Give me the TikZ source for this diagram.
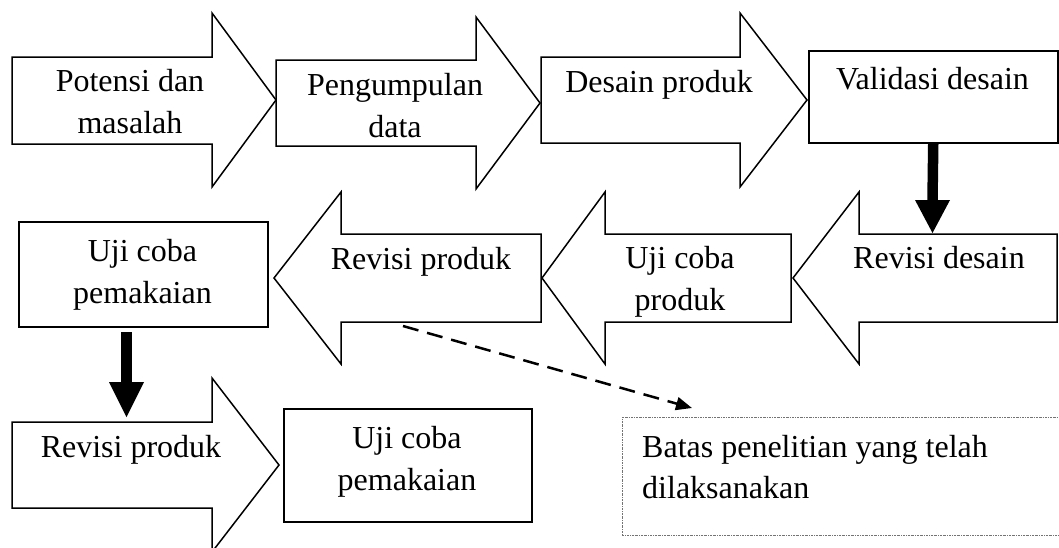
\documentclass[tikz,border=0pt]{standalone}
\usepackage{fontspec}
\setmainfont{Liberation Serif}
\usetikzlibrary{arrows.meta,calc}
\tikzset{
  outline/.style={draw=black, line width=1.5pt, line join=miter, fill=white},
  lbl/.style={inner sep=0pt, anchor=base, align=center, font=\fontsize{32}{42}\selectfont},
  lbll/.style={inner sep=0pt, anchor=base west, align=left, font=\fontsize{32}{41}\selectfont},
  boxnode/.style={draw=black, line width=1.5pt, inner sep=0pt, anchor=north west},
  shaft/.style={line width=10.5pt},
  dashlink/.style={line width=2.5pt, dash pattern=on 16pt off 9pt, -{Triangle[length=16pt,width=13pt]}},
  dottedbox/.style={draw=black!55, line width=0.9pt, dash pattern=on 2pt off 1pt on 0.6pt off 1pt, inner sep=0pt, anchor=north west},
}
\begin{document}
\begin{tikzpicture}[x=1pt,y=-1pt]
\useasboundingbox (0,0) rectangle (1059,547);
\clip (0,0) rectangle (1059,547);

% ---- row 1 ----
\draw[outline] (12,57) -- (212,57) -- (212,13) -- (276,100) -- (212,187) -- (212,144) -- (12,144) -- cycle;
\draw[outline] (276,60) -- (476,60) -- (476,17) -- (540,103) -- (476,189) -- (476,146) -- (276,146) -- cycle;
\draw[outline] (541,57) -- (740,57) -- (740,13) -- (807,100) -- (740,187) -- (740,143) -- (541,143) -- cycle;
\node[boxnode, minimum width=249pt, minimum height=92pt] (val) at (808,50) {};

\node[lbl] (t1) at (130,133) {Potensi dan\\masalah};
\node[lbl] (t2) at (395,137) {Pengumpulan\\data};
\node[lbl] (t3) at (659,92) {Desain produk};
\node[lbl] (t4) at (932.5,89) {Validasi desain};

% ---- row 2 ----
\draw[outline] (1057,234) -- (859,234) -- (859,192) -- (793,278) -- (859,364) -- (859,322) -- (1057,322) -- cycle;
\draw[outline] (791,234) -- (605,234) -- (605,192) -- (542,278) -- (605,364) -- (605,322) -- (791,322) -- cycle;
\draw[outline] (541,234) -- (341,234) -- (341,192) -- (274,278) -- (341,364) -- (341,322) -- (541,322) -- cycle;
\node[boxnode, minimum width=249pt, minimum height=105pt] (ucp) at (18,221) {};

\node[lbl] (t5) at (939,268) {Revisi desain};
\node[lbl] (t6) at (680,310) {Uji coba\\produk};
\node[lbl] (t7) at (421,269) {Revisi produk};
\node[lbl] (t8) at (142.5,303) {Uji coba\\pemakaian};

% ---- row 3 ----
\draw[outline] (12,422) -- (212,422) -- (212,378) -- (279,465) -- (212,552) -- (212,508) -- (12,508) -- cycle;
\node[boxnode, minimum width=248pt, minimum height=113pt] (ucp2) at (283,408) {};

\node[lbl] (t9) at (131,457) {Revisi produk};
\node[lbl] (t10) at (407,490) {Uji coba\\pemakaian};

% ---- thick block arrows ----
\coordinate (rdtop) at (932.5,233);
\draw[shaft] (val.south) -- ($(rdtop)+(0,-33)$);
\fill ($(rdtop)+(-17.5,-33)$) -- ($(rdtop)+(17.5,-33)$) -- (rdtop) -- cycle;

\coordinate (s2) at (126.5,332);
\coordinate (rptop) at (126.5,417);
\draw[shaft] (s2) -- ($(rptop)+(0,-35)$);
\fill ($(rptop)+(-17.5,-35)$) -- ($(rptop)+(17.5,-35)$) -- (rptop) -- cycle;

% ---- dashed link and note ----
\node[dottedbox, minimum width=450pt, minimum height=118pt] (note) at (622,417) {};
\node[lbll] (t11) at (642,498) {Batas penelitian yang telah\\dilaksanakan};
\coordinate (ds) at (403,326);
\coordinate (de) at (692,408);
\draw[dashlink] (ds) -- (de);
\end{tikzpicture}
\end{document}
